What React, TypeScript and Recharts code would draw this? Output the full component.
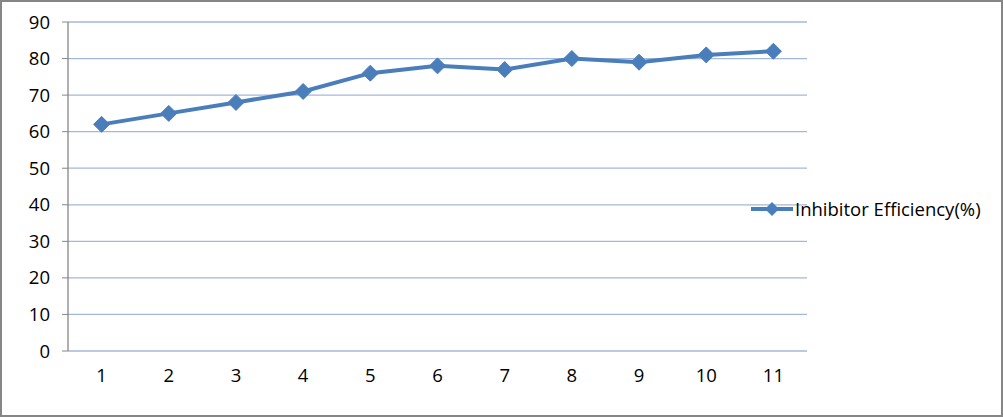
import React from 'react';
import { LineChart, Line, XAxis, YAxis, CartesianGrid, Legend } from 'recharts';

const categories = [1, 2, 3, 4, 5, 6, 7, 8, 9, 10, 11];
const efficiency = [62, 65, 68, 71, 76, 78, 77, 80, 79, 81, 82];
const yTicks = [0, 10, 20, 30, 40, 50, 60, 70, 80, 90];
const boundaryTicks = [0.5, 1.5, 2.5, 3.5, 4.5, 5.5, 6.5, 7.5, 8.5, 9.5, 10.5, 11.5];
const seriesName = 'Inhibitor Efficiency(%)';

const data = categories.map((c, i) => ({ x: c, v: efficiency[i] }));

const BLUE = '#4A7EBB';
const FONT = '"Open Sans", Lato, sans-serif';
const FS = 18.5;

const Diamond = (props: any) => {
  const { cx, cy } = props;
  if (cx == null || cy == null) return null;
  const r = 8;
  return (
    <polygon
      points={`${cx},${cy - r} ${cx + r},${cy} ${cx},${cy + r} ${cx - r},${cy}`}
      fill={BLUE}
      stroke={BLUE}
      strokeWidth={1}
    />
  );
};

const LegendContent = () => (
  <div style={{ display: 'flex', alignItems: 'center', fontFamily: FONT, fontSize: FS, color: '#000' }}>
    <svg width={44} height={18} style={{ display: 'block' }}>
      <line x1={1} y1={9} x2={43} y2={9} stroke={BLUE} strokeWidth={4} />
      <polygon points="22,2 29,9 22,16 15,9" fill={BLUE} />
    </svg>
    <span style={{ marginLeft: 1 }}>{seriesName}</span>
  </div>
);

export default function App() {
  return (
    <div style={{ position: 'absolute', left: 0, top: 0, width: 1003, height: 417, background: '#fff' }}>
      <LineChart
        width={1003}
        height={417}
        data={data}
        margin={{ top: 22, right: 196, left: 0, bottom: 11 }}
      >
        <CartesianGrid horizontal={true} vertical={false} stroke="#A3B8DA" strokeWidth={1.3} />
        <XAxis
          xAxisId="marks"
          dataKey="x"
          type="number"
          domain={[0.5, 11.5]}
          ticks={boundaryTicks}
          interval={0}
          height={0}
          tickSize={6}
          tickFormatter={() => ''}
          stroke="#868686"
          tickLine={{ stroke: '#868686' }}
          axisLine={{ stroke: '#868686', strokeWidth: 1.3 }}
        />
        <XAxis
          xAxisId="labels"
          dataKey="x"
          type="number"
          domain={[0.5, 11.5]}
          ticks={categories}
          interval={0}
          height={30}
          tickLine={false}
          axisLine={false}
          tick={{ fill: '#000', fontFamily: FONT, fontSize: FS, dy: 10 }}
        />
        <YAxis
          type="number"
          domain={[0, 90]}
          ticks={yTicks}
          interval={0}
          width={68}
          tickSize={6}
          tickMargin={12}
          stroke="#868686"
          axisLine={{ stroke: '#868686', strokeWidth: 1.3 }}
          tickLine={{ stroke: '#868686' }}
          tick={{ fill: '#000', fontFamily: FONT, fontSize: FS }}
        />
        <Legend
          content={<LegendContent />}
          wrapperStyle={{ position: 'absolute', left: 750, top: 196, width: 252 }}
        />
        <Line
          xAxisId="marks"
          dataKey="v"
          name={seriesName}
          stroke={BLUE}
          strokeWidth={4}
          dot={<Diamond />}
          activeDot={false}
          isAnimationActive={false}
        />
      </LineChart>
      <div
        style={{
          position: 'absolute',
          left: 0,
          top: 0,
          width: 1003,
          height: 417,
          boxSizing: 'border-box',
          border: '2px solid #868686',
          pointerEvents: 'none',
        }}
      />
    </div>
  );
}
